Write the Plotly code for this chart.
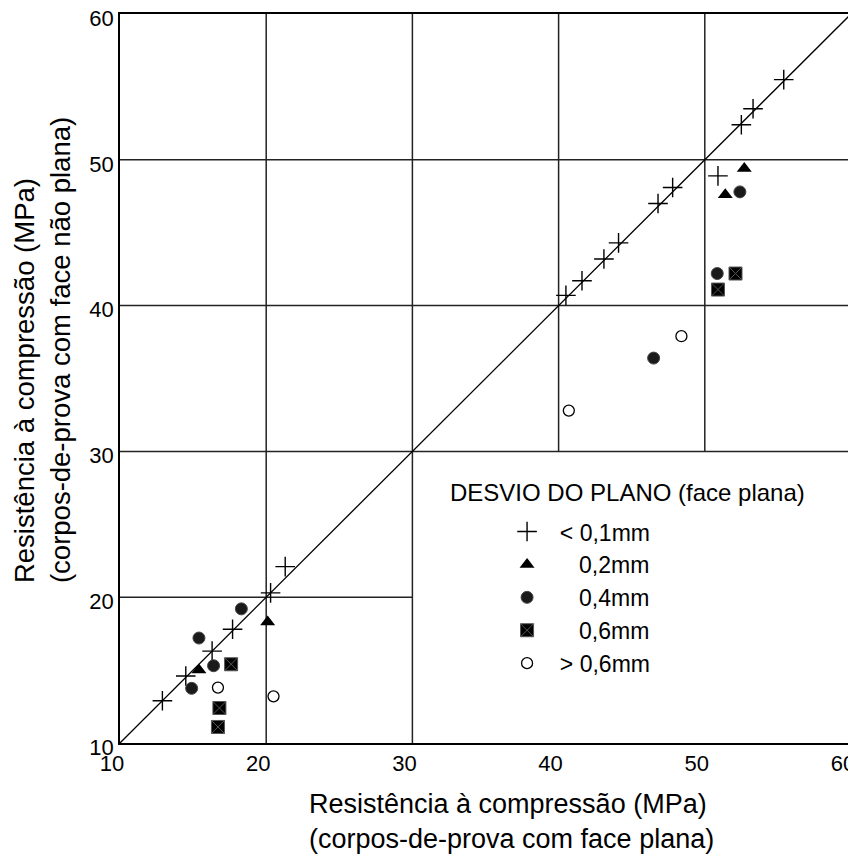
import plotly.graph_objects as go

# ---- data (x: face plana, y: face não plana), MPa ----
plus_x = [12.9, 14.5, 16.3, 17.7, 20.3, 21.3, 40.5, 41.6, 43.1, 44.1, 46.8, 47.8, 50.9, 52.5, 53.3, 55.4]
plus_y = [12.9, 14.6, 16.3, 17.8, 20.3, 22.1, 40.7, 41.7, 43.2, 44.3, 47.0, 48.1, 48.9, 52.4, 53.5, 55.5]

tri_x = [15.4, 20.1, 51.4, 52.7]
tri_y = [15.0, 18.3, 47.6, 49.4]

circ_x = [18.3, 15.4, 16.4, 14.9, 46.5, 50.85, 52.4]
circ_y = [19.2, 17.2, 15.3, 13.75, 36.4, 42.2, 47.8]

sq_x = [17.6, 16.8, 16.7, 52.1, 50.9]
sq_y = [15.4, 12.4, 11.1, 42.2, 41.1]

open_x = [16.7, 20.5, 48.4, 40.7]
open_y = [13.8, 13.2, 37.9, 32.8]

axis_range = [10, 60]
tick_vals = [10, 20, 30, 40, 50, 60]
tick_text = ["10", "20", "30", "40", "50", "60"]

NB = "\u00a0"
series_names = [NB * 2 + "<" + NB + "0,1mm",
                NB * 5 + "0,2mm",
                NB * 5 + "0,4mm",
                NB * 5 + "0,6mm",
                NB * 2 + ">" + NB + "0,6mm"]
legend_title = "DESVIO DO PLANO (face plana)"
x_title = "Resistência à compressão (MPa)<br>(corpos-de-prova com face plana)"
y_title = "Resistência à compressão (MPa)<br>(corpos-de-prova com face não plana)"

# grid segments (the lower-right block is left blank for the legend)
vgrid = [(20, 10, 60), (30, 10, 60), (40, 30, 60), (50, 30, 60)]
hgrid = [(20, 10, 30), (30, 10, 60), (40, 10, 60), (50, 10, 60)]

FONT = "Liberation Sans, Arial, sans-serif"

fig = go.Figure()

# 1:1 line
fig.add_trace(go.Scatter(x=axis_range, y=axis_range, mode="lines",
                         line=dict(color="black", width=1.3), showlegend=False, hoverinfo="skip"))

fig.add_trace(go.Scatter(x=plus_x, y=plus_y, mode="markers", name=series_names[0],
                         marker=dict(symbol="cross-thin", size=14, line=dict(color="black", width=1.4))))
fig.add_trace(go.Scatter(x=tri_x, y=tri_y, mode="markers", name=series_names[1],
                         marker=dict(symbol="triangle-up", size=13, color="black", line=dict(width=0))))
fig.add_trace(go.Scatter(x=circ_x, y=circ_y, mode="markers", name=series_names[2],
                         marker=dict(symbol="circle", size=12, color="#1a1a1a", line=dict(color="#444", width=1))))
fig.add_trace(go.Scatter(x=sq_x, y=sq_y, mode="markers", name=series_names[3],
                         marker=dict(symbol="square-x", size=13, color="black", line=dict(color="#555", width=1))))
fig.add_trace(go.Scatter(x=open_x, y=open_y, mode="markers", name=series_names[4],
                         marker=dict(symbol="circle-open", size=11, color="black", line=dict(color="black", width=1.3))))

shapes = []
for xv, y0, y1 in vgrid:
    shapes.append(dict(type="line", xref="x", yref="y", x0=xv, x1=xv, y0=y0, y1=y1,
                       line=dict(color="#222", width=1.5), layer="below"))
for yv, x0, x1 in hgrid:
    shapes.append(dict(type="line", xref="x", yref="y", x0=x0, x1=x1, y0=yv, y1=yv,
                       line=dict(color="#222", width=1.5), layer="below"))

fig.update_layout(
    width=848, height=847,
    margin=dict(l=112, r=5, t=6, b=112, autoexpand=False),
    paper_bgcolor="white", plot_bgcolor="white",
    font=dict(family=FONT, color="black"),
    shapes=shapes,
    showlegend=True,
    legend=dict(
        font=dict(size=23, family=FONT),
        x=0.5295, xanchor="left", y=0.3195, yanchor="top",
        bgcolor="rgba(0,0,0,0)", borderwidth=0,
        tracegroupgap=0, itemwidth=30,
    ),
    annotations=[
        dict(text=legend_title, xref="paper", yref="paper", x=0.4487, y=0.3443,
             xanchor="left", yanchor="middle", showarrow=False, font=dict(size=24, family=FONT)),
        dict(text=x_title, xref="paper", yref="paper", x=0.536, y=-0.0607, xanchor="center", yanchor="top",
             align="left", showarrow=False, font=dict(size=27, family=FONT)),
        dict(text=y_title, xref="paper", yref="paper", x=-0.1067, y=0.539, xanchor="center", yanchor="middle",
             align="left", textangle=-90, showarrow=False, font=dict(size=27.5, family=FONT)),
    ],
)

fig.update_xaxes(range=axis_range, tickvals=tick_vals, ticktext=tick_text, showgrid=False, zeroline=False,
                 showline=True, mirror=True, linecolor="black", linewidth=1.5, ticks="",
                 automargin=False, ticklabeloverflow="allow", ticklabelshift=-8,
                 tickfont=dict(size=22, family=FONT))
fig.update_yaxes(range=axis_range, tickvals=tick_vals, ticktext=tick_text, showgrid=False, zeroline=False,
                 showline=True, mirror=True, linecolor="black", linewidth=1.5, ticks="",
                 automargin=False, ticklabeloverflow="allow", ticklabelshift=4,
                 tickfont=dict(size=22, family=FONT))

fig.write_html("out.html")
